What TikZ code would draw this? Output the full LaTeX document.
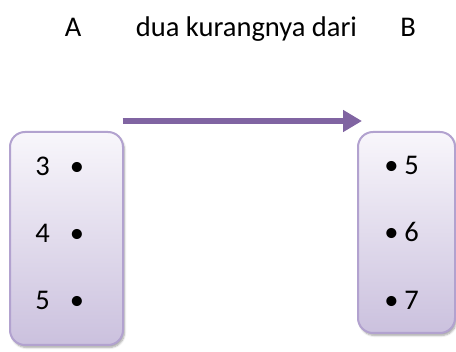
\documentclass[tikz,border=0pt]{standalone}
\usepackage{fontspec}
\setmainfont{Carlito}
\usetikzlibrary{arrows.meta,shadows.blur}
\definecolor{boxborder}{HTML}{B2A2CF}
\definecolor{boxtop}{HTML}{F8F6FB}
\definecolor{boxbot}{HTML}{CBC1DE}
\definecolor{arrowpurple}{HTML}{8064A2}
\tikzset{
  setbox/.style={draw=boxborder, line width=2pt, rounded corners=15pt,
    top color=boxtop, bottom color=boxbot, inner sep=0pt,
    blur shadow={shadow xshift=1.5pt, shadow yshift=-2.5pt, shadow blur steps=6, shadow opacity=35}},
  lbl/.style={font=\fontsize{28.5}{32}\selectfont, anchor=base, inner sep=0pt},
  bul/.style={font=\fontsize{28.5}{32}\selectfont, anchor=base, inner sep=0pt},
}
\begin{document}
\begin{tikzpicture}[x=1pt,y=-1pt]
\useasboundingbox (0,0) rectangle (456,352);
% boxes
\node[setbox, minimum width=113pt, minimum height=213pt] (L) at (66.5,238.5) {};
\node[setbox, minimum width=97pt, minimum height=201pt] (R) at (406.5,232.5) {};
% headings
\node[lbl] (A) at (73,37) {A};
\node[lbl] (rel) at (246.5,37) {dua kurangnya dari};
\node[lbl] (B) at (408,37) {B};
% left elements
\node[lbl] (l3) at (42.5,176) {3};
\node[lbl] (l4) at (42.5,243) {4};
\node[lbl] (l5) at (42.5,310) {5};
\node[bul] (lb3) at (77,176) {•};
\node[bul] (lb4) at (77,243) {•};
\node[bul] (lb5) at (77,310) {•};
% right elements
\node[lbl] (r5) at (411.5,175) {5};
\node[lbl] (r6) at (411.5,242) {6};
\node[lbl] (r7) at (411.5,310) {7};
\node[bul] (rb5) at (391.5,175) {•};
\node[bul] (rb6) at (391.5,242) {•};
\node[bul] (rb7) at (391.5,310) {•};
% arrow
\coordinate (s) at (122.7,121);
\coordinate (t) at (362,121);
\draw[arrowpurple, line width=6.5pt, -{Triangle[length=19pt,width=21pt]}] (s) -- (t);
\end{tikzpicture}
\end{document}
